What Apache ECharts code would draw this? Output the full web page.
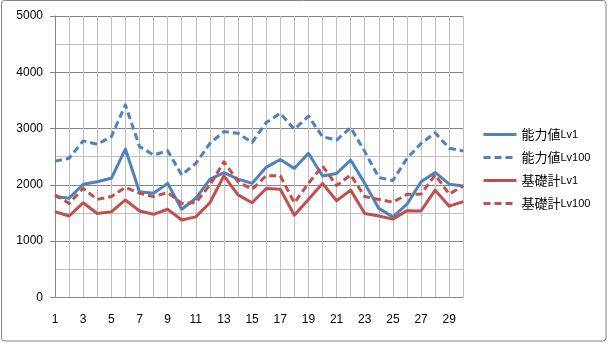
<!DOCTYPE html>
<html>
<head>
<meta charset="utf-8">
<script src="https://cdn.jsdelivr.net/npm/echarts@6/dist/echarts.min.js"></script>
<style>
  html, body { margin: 0; padding: 0; background: #fff; }
  #chart { width: 608px; height: 343px; }
</style>
</head>
<body>
<div id="chart"></div>
<script>
// Categories 1..30
const categories = ['1','2','3','4','5','6','7','8','9','10','11','12','13','14','15','16','17','18','19','20','21','22','23','24','25','26','27','28','29','30'];

const abilityLv1 = [1790,1760,2010,2055,2115,2635,1877,1850,2025,1565,1760,2095,2215,2100,2025,2310,2450,2290,2560,2155,2200,2440,2025,1580,1430,1655,2055,2220,2010,1980];
const abilityLv100 = [2420,2470,2780,2720,2855,3420,2680,2530,2605,2175,2380,2735,2945,2915,2750,3105,3270,2985,3220,2855,2795,3015,2590,2130,2075,2470,2735,2925,2650,2600];
const baseLv1 = [1520,1445,1680,1490,1520,1730,1535,1475,1565,1375,1430,1680,2160,1820,1680,1935,1920,1460,1740,2025,1715,1905,1490,1445,1390,1540,1535,1905,1620,1700];
const baseLv100 = [1820,1670,1935,1740,1790,1955,1850,1790,1860,1670,1680,1995,2410,2055,1920,2160,2160,1680,2025,2335,1985,2175,1790,1740,1690,1830,1835,2175,1835,1980];

const seriesNames = ['能力値Lv1', '能力値Lv100', '基礎計Lv1', '基礎計Lv100'];

const BLUE = '#4F81BD';
const RED = '#C0504D';
const DASH = [7, 4];

function lineSeries(name, data, color, dashed) {
  return {
    name: name,
    type: 'line',
    data: data,
    symbol: 'none',
    smooth: false,
    animation: false,
    lineStyle: { color: color, width: 3, type: dashed ? DASH : 'solid', cap: 'butt', join: 'round' },
    itemStyle: { color: color }
  };
}

const chart = echarts.init(document.getElementById('chart'), null, { renderer: 'canvas' });

chart.setOption({
  backgroundColor: '#ffffff',
  animation: false,
  graphic: [{
    type: 'rect',
    shape: { x: 1.5, y: 0.5, width: 604.5, height: 340.5, r: 3 },
    style: { fill: 'none', stroke: '#868686', lineWidth: 1 },
    silent: true,
    z: -1
  }],
  grid: { left: 55, right: 144.7, top: 16, bottom: 45.7, containLabel: false },
  legend: {
    orient: 'vertical',
    left: 477,
    top: 123,
    itemWidth: 33,
    itemHeight: 14,
    itemGap: 10,
    data: seriesNames,
    itemStyle: { opacity: 0 },
    lineStyle: { width: 3 },
    formatter: function (name) {
      const m = name.match(/^(.*?)(Lv\d+)$/);
      return '{a|' + m[1] + '}{b|' + m[2] + '}';
    },
    textStyle: {
      rich: {
        a: { fontSize: 13, color: '#000', fontFamily: 'Noto Sans CJK JP' },
        b: { fontSize: 11, color: '#000', fontFamily: 'Liberation Sans' }
      }
    }
  },
  xAxis: {
    type: 'category',
    data: categories,
    boundaryGap: false,
    axisLine: { show: false },
    axisTick: { show: false },
    axisLabel: {
      interval: 1,
      margin: 16,
      fontSize: 12,
      color: '#000',
      fontFamily: 'Liberation Sans'
    },
    splitLine: { show: true, interval: 0, lineStyle: { color: '#BFBFBF', width: 1 } }
  },
  yAxis: {
    type: 'value',
    min: 0,
    max: 5000,
    interval: 1000,
    axisLine: { show: true, lineStyle: { color: '#868686', width: 1 } },
    axisTick: { show: true, length: 5, lineStyle: { color: '#868686' } },
    axisLabel: {
      margin: 12, fontSize: 12, color: '#000', fontFamily: 'Liberation Sans',
      formatter: function (v) { return String(v); }
    },
    splitLine: { show: true, lineStyle: { color: '#868686', width: 1 } },
    minorTick: { show: true, splitNumber: 2, length: 0, lineStyle: { color: 'rgba(0,0,0,0)' } },
    minorSplitLine: { show: true, lineStyle: { color: '#BFBFBF', width: 1 } }
  },
  series: [
    lineSeries(seriesNames[0], abilityLv1, BLUE, false),
    lineSeries(seriesNames[1], abilityLv100, BLUE, true),
    lineSeries(seriesNames[2], baseLv1, RED, false),
    lineSeries(seriesNames[3], baseLv100, RED, true)
  ]
});
</script>
</body>
</html>
